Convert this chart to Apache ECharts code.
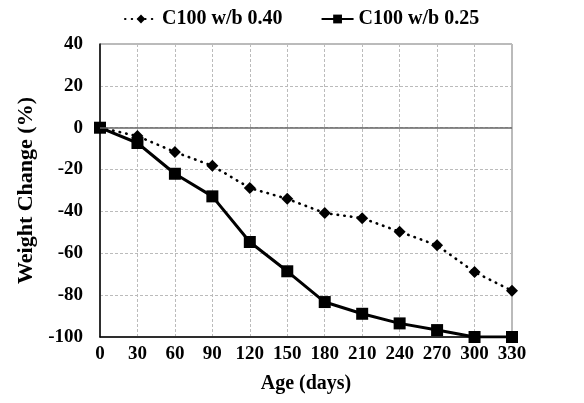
<!DOCTYPE html>
<html><head><meta charset="utf-8">
<script src="https://cdn.jsdelivr.net/npm/echarts@6/dist/echarts.min.js"></script>
<style>html,body{margin:0;padding:0;background:#fff}#c{width:584px;height:403px}</style>
</head><body><div id="c"></div>
<script>
const ages = [0, 30, 60, 90, 120, 150, 180, 210, 240, 270, 300, 330];
const wb040 = [0, -4, -11.6, -18.2, -28.8, -34, -40.8, -43.2, -49.7, -56.2, -69, -77.9];
const wb025 = [0, -7.3, -22, -32.8, -54.6, -68.6, -83.3, -88.9, -93.5, -96.7, -100, -100];
const seriesNames = ['C100 w/b 0.40', 'C100 w/b 0.25'];

const font = 'Liberation Serif, Times New Roman, serif';
const chart = echarts.init(document.getElementById('c'));
chart.setOption({
  animation: false,
  backgroundColor: '#fff',
  grid: {left: 100, right: 72, top: 44, bottom: 66, show: true, borderColor: '#777', borderWidth: 1},
  legend: {
    top: 4, left: 119,
    itemWidth: 32, itemHeight: 11, itemGap: 38,
    textStyle: {fontFamily: font, fontWeight: 'bold', fontSize: 20, color: '#000'},
    data: seriesNames
  },
  xAxis: {
    type: 'value', min: 0, max: 330, interval: 30,
    name: 'Age (days)', nameLocation: 'middle', nameGap: 37,
    nameTextStyle: {fontFamily: font, fontWeight: 'bold', fontSize: 20, color: '#000'},
    axisLine: {show: true, onZero: false, lineStyle: {color: '#000', width: 1.5}},
    axisTick: {show: false},
    axisLabel: {fontFamily: font, fontWeight: 'bold', fontSize: 19, color: '#000', margin: 8},
    splitLine: {show: true, lineStyle: {color: '#bbb', type: [3, 2], width: 1}}
  },
  yAxis: {
    type: 'value', min: -100, max: 40, interval: 20,
    name: 'Weight Change (%)', nameLocation: 'middle', nameGap: 61,
    nameTextStyle: {fontFamily: font, fontWeight: 'bold', fontSize: 22, color: '#000'},
    axisLine: {show: true, onZero: false, lineStyle: {color: '#000', width: 1.5}},
    axisTick: {show: false},
    axisLabel: {fontFamily: font, fontWeight: 'bold', fontSize: 19, color: '#000', margin: 17},
    splitLine: {show: true, lineStyle: {color: '#bbb', type: [3, 2], width: 1}}
  },
  series: [
    {
      name: seriesNames[0], type: 'line',
      data: ages.map((a, i) => [a, wb040[i]]),
      symbol: 'diamond', symbolSize: 12,
      itemStyle: {color: '#000'},
      lineStyle: {color: '#000', width: 2.6, type: [0.5, 6.2], cap: 'round'},
      markLine: {
        silent: true, symbol: 'none', label: {show: false},
        lineStyle: {color: '#666', type: 'solid', width: 1.5},
        data: [{yAxis: 0}]
      },
      z: 3
    },
    {
      name: seriesNames[1], type: 'line',
      data: ages.map((a, i) => [a, wb025[i]]),
      symbol: 'rect', symbolSize: 12,
      itemStyle: {color: '#000'},
      lineStyle: {color: '#000', width: 3},
      z: 4
    }
  ]
});
</script></body></html>
